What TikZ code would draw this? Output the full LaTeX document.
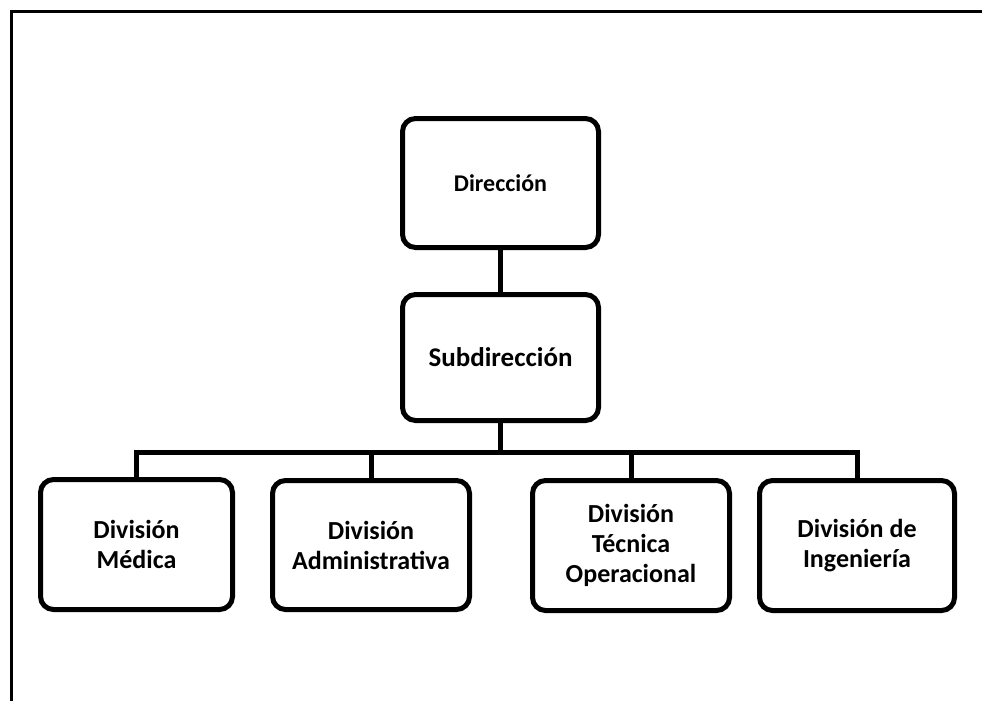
\documentclass[tikz,border=0pt]{standalone}
\usepackage{fontspec}
\setmainfont{Carlito}
\begin{document}
\begin{tikzpicture}[x=1pt,y=-1pt,
  orgbox/.style={draw=black, line width=5pt, rounded corners=13pt, fill=white,
    align=center, inner sep=2pt, font=\bfseries\fontsize{26}{30}\selectfont},
  link/.style={draw=black, line width=5pt},
  frame/.style={draw=black, line width=3pt}]
\useasboundingbox (0,0) rectangle (982,701);
\draw[frame] (11.5,701) -- (11.5,11.5) -- (982,11.5);
\node[orgbox, minimum width=196pt, minimum height=129pt, font=\bfseries\fontsize{24}{28}\selectfont] (dir) at (500.5,183) {Dirección};
\node[orgbox, minimum width=196pt, minimum height=126pt, font=\bfseries\fontsize{27}{31}\selectfont] (sub) at (500.5,357.5) {Subdirección};
\node[orgbox, minimum width=192pt, minimum height=130pt] (med) at (136.5,544.5) {División\\Médica};
\node[orgbox, minimum width=197pt, minimum height=129pt] (adm) at (371,545) {División\\Administrativa};
\node[orgbox, minimum width=197pt, minimum height=130pt] (tec) at (631,545.5) {División\\Técnica\\Operacional};
\node[orgbox, minimum width=195pt, minimum height=130pt] (ing) at (857,545.5) {División de\\Ingeniería};
\coordinate (bus) at (500.5,452);
\draw[link] (dir) -- (sub);
\draw[link] (sub) -- (bus);
\draw[link] (med.north) |- (bus) -| (ing.north);
\draw[link] (adm.north) -- (adm.north |- bus);
\draw[link] (tec.north) -- (tec.north |- bus);
\end{tikzpicture}
\end{document}
